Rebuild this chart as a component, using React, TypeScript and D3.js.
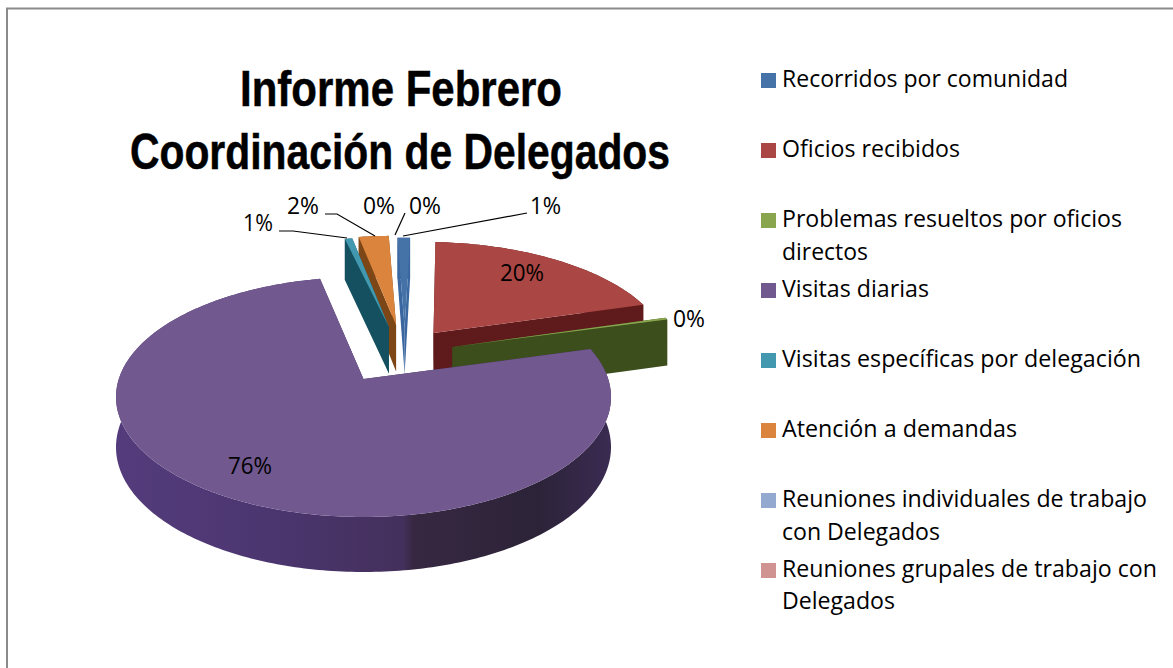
import React from "react";
import * as d3 from "d3";

// ---- data ----
const categories = [
  "Recorridos por comunidad",
  "Oficios recibidos",
  "Problemas resueltos por oficios directos",
  "Visitas diarias",
  "Visitas específicas por delegación",
  "Atención a demandas",
  "Reuniones individuales de trabajo con Delegados",
  "Reuniones grupales de trabajo con Delegados",
];
const values = [1.0, 19.6, 0.3, 76.0, 0.6, 2.4, 0.05, 0.05];
const titleLines = ["Informe Febrero", "Coordinación de Delegados"];

// ---- styles and layout ----
const topColors = ["#4572A7", "#AA4643", "#89A54E", "#71588F", "#4198AF", "#DB843D", "#93A9CF", "#D19392"];
const wallColors = ["#3A67A0", "#5F1A1C", "#3C4E1C", "#3F2E5C", "#14505F", "#7D4616", "#5A6E92", "#8A5453"];
const explodeU = [0.18, 0.304, 0.379, 0, 0.111, 0.143, 0, 0];
const explodeV = [-0.47, -0.4166, -0.2846, 0, -0.475, -0.494, 0, 0];
const drawOrder = [1, 0, 5, 4, 2, 3];
const legendLines = [
  [{ t: "Recorridos por comunidad", w: 286, y: 87 }],
  [{ t: "Oficios recibidos", w: 178, y: 157 }],
  [{ t: "Problemas resueltos por oficios", w: 340, y: 227 }, { t: "directos", w: 86, y: 260 }],
  [{ t: "Visitas diarias", w: 147, y: 297 }],
  [{ t: "Visitas específicas por delegación", w: 359, y: 367 }],
  [{ t: "Atención a demandas", w: 235, y: 437 }],
  [{ t: "Reuniones individuales de trabajo", w: 365, y: 507 }, { t: "con Delegados", w: 158, y: 540 }],
  [{ t: "Reuniones grupales de trabajo con", w: 375, y: 577 }, { t: "Delegados", w: 113, y: 609 }],
];
const labelPos = [
  { x: 530, y: 214, w: 31 },
  { x: 500, y: 281, w: 44 },
  { x: 673, y: 327, w: 32 },
  { x: 228, y: 474, w: 44 },
  { x: 243, y: 231, w: 30 },
  { x: 287, y: 214, w: 32 },
  { x: 363, y: 214, w: 32 },
  { x: 409, y: 214, w: 32 },
];
const leaders: [number, number][][] = [
  [[527, 213], [403, 236]],
  [[405, 213], [395, 235]],
  [[325, 214], [337, 214], [375, 236]],
  [[279, 231], [293, 231], [347, 238]],
];

// perspective disc: plane coordinates (u, v) to the screen
const cx = 363.5, cy = 379, A = 244.7, B = 117.3, P = 0.15;
const wOf = (v: number) => 1 - P * v;
const proj = (u: number, v: number): [number, number] => [cx + (A * u) / wOf(v), cy + (B * v) / wOf(v)];
const depth = (v: number) => 55 - (wOf(v) - 0.85) * 38;
const lineGen = d3.line<[number, number]>();
const startAngle = (-0.6 * Math.PI) / 180;

const arcs = d3
  .pie<number>()
  .sort(null)
  .startAngle(startAngle)
  .endAngle(startAngle + 2 * Math.PI)(values);

function slice(i: number) {
  const a = arcs[i];
  const ou = explodeU[i], ov = explodeV[i];
  const n = Math.max(2, Math.ceil((a.endAngle - a.startAngle) * 60));
  const angles = d3.range(n + 1).map((k) => a.startAngle + ((a.endAngle - a.startAngle) * k) / n);
  const plane = angles.map((t) => [ou + Math.sin(t), ov - Math.cos(t)] as [number, number]);
  const rim = plane.map(([u, v]) => proj(u, v));
  const rimLow = plane.map(([u, v]) => {
    const p = proj(u, v);
    return [p[0], p[1] + depth(v)] as [number, number];
  });
  const apex = proj(ou, ov);
  const apexLow: [number, number] = [apex[0], apex[1] + depth(ov)];
  return {
    top: lineGen([apex, ...rim]) + "Z",
    outer: lineGen([...rim, ...rimLow.slice().reverse()]) + "Z",
    wallA: lineGen([apex, rim[0], rimLow[0], apexLow]) + "Z",
    wallB: lineGen([apex, rim[n], rimLow[n], apexLow]) + "Z",
  };
}

const pct = d3.format(".0%");
const sans = "'Open Sans', 'Liberation Sans', sans-serif";

export default function App() {
  return (
    <svg
      width={1173}
      height={668}
      style={{ position: "fixed", left: 0, top: 0, background: "#fff" }}
    >
      <defs>
        <linearGradient id="purpleWall" gradientUnits="userSpaceOnUse" x1={116} x2={611} y1={0} y2={0}>
          <stop offset="0" stopColor="#543C7C" />
          <stop offset="0.3" stopColor="#4C3670" />
          <stop offset="0.58" stopColor="#44305C" />
          <stop offset="0.6" stopColor="#372842" />
          <stop offset="0.85" stopColor="#2C2338" />
          <stop offset="1" stopColor="#3A2B52" />
        </linearGradient>
      </defs>

      <path d="M7 668V8.5H1173" fill="none" stroke="#8A8A8A" strokeWidth={2} />

      {titleLines.map((t, i) => (
        <text
          key={t}
          x={i === 0 ? 240 : 130}
          y={i === 0 ? 105.5 : 169}
          textLength={i === 0 ? 322 : 540}
          lengthAdjust="spacingAndGlyphs"
          fontFamily="'Liberation Sans', Arial, sans-serif"
          fontWeight={700}
          fontSize={50}
          fill="#000"
          stroke="#000"
          strokeWidth={0.5}
        >
          {t}
        </text>
      ))}

      {drawOrder.map((i) => {
        const s = slice(i);
        return (
          <g key={categories[i]}>
            <path d={s.outer} fill={i === 3 ? "url(#purpleWall)" : wallColors[i]} />
            <path d={s.wallA} fill={wallColors[i]} />
            <path d={s.wallB} fill={wallColors[i]} />
            <path d={s.top} fill={topColors[i]} />
          </g>
        );
      })}

      {leaders.map((pts, i) => (
        <path key={i} d={lineGen(pts) as string} fill="none" stroke="#000" strokeWidth={1.2} />
      ))}

      {values.map((v, i) => (
        <text
          key={i}
          x={labelPos[i].x}
          y={labelPos[i].y}
          textLength={labelPos[i].w}
          lengthAdjust="spacingAndGlyphs"
          fontFamily={sans}
          fontSize={23}
          fill="#000"
        >
          {pct(Math.round(v) / 100)}
        </text>
      ))}

      {categories.map((c, i) => (
        <g key={c}>
          <rect x={761} y={legendLines[i][0].y - 14} width={15} height={15} fill={topColors[i]} />
          {legendLines[i].map((l) => (
            <text
              key={l.t}
              x={782}
              y={l.y}
              textLength={l.w}
              lengthAdjust="spacingAndGlyphs"
              fontFamily={sans}
              fontSize={23}
              fill="#000"
            >
              {l.t}
            </text>
          ))}
        </g>
      ))}
    </svg>
  );
}
